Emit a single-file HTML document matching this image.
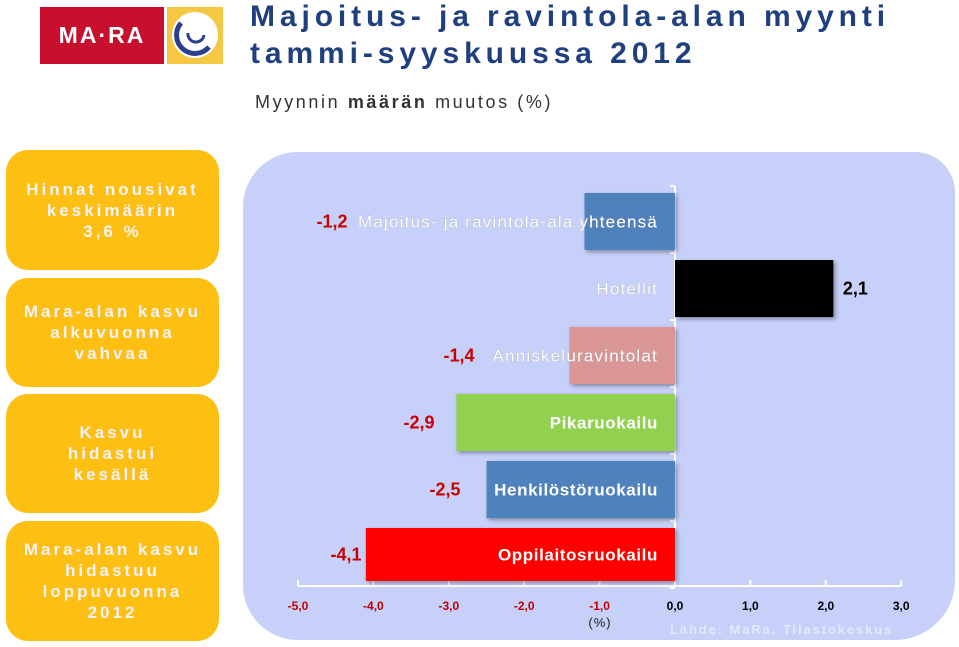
<!DOCTYPE html>
<html><head><meta charset="utf-8"><style>
body{margin:0;width:959px;height:647px;background:#fff;position:relative;overflow:hidden;font-family:"Liberation Sans",sans-serif}
.box{position:absolute;left:6px;width:213px;background:#fdbf12;border-radius:22px;color:#f4f2fb;font-weight:bold;font-size:17px;letter-spacing:3px;text-align:center;display:flex;align-items:center;justify-content:center;line-height:21px}
</style></head><body>
<div style="position:absolute;left:40px;top:7px;width:124px;height:57px;background:#c8102e;color:#fff;font-size:23px;font-weight:bold;letter-spacing:2px;display:flex;align-items:center;justify-content:center">MA·RA</div>
<div style="position:absolute;left:167px;top:7px;width:56px;height:57px;background:#f4c842">
<svg width="56" height="57"><circle cx="28" cy="28" r="23" fill="#fff"/><path d="M14 16 A16 16 0 1 0 42 40" stroke="#2d3e8f" stroke-width="5" fill="none"/><path d="M21 26 A8 8 0 0 0 37 28" stroke="#2d3e8f" stroke-width="3" fill="none"/></svg></div>
<div style="position:absolute;left:250px;top:-2px;color:#1f3f7f;font-size:30px;font-weight:bold;letter-spacing:4.9px;line-height:37px;white-space:nowrap">Majoitus- ja ravintola-alan myynti<br>tammi-syyskuussa 2012</div>
<div style="position:absolute;left:255px;top:92px;color:#333;font-size:18px;letter-spacing:2.6px">Myynnin <b>määrän</b> muutos (%)</div>
<div class="box" style="top:150px;height:120px">Hinnat nousivat<br>keskimäärin<br>3,6 %</div>
<div class="box" style="top:278px;height:109px">Mara-alan kasvu<br>alkuvuonna<br>vahvaa</div>
<div class="box" style="top:394px;height:119px">Kasvu<br>hidastui<br>kesällä</div>
<div class="box" style="top:521px;height:120px">Mara-alan kasvu<br>hidastuu<br>loppuvuonna<br>2012</div>
<div style="position:absolute;left:243px;top:152px;width:712px;height:488px;background:#c6d0f8;border-radius:55px 40px 60px 55px"></div>
<svg id="chart" width="959" height="647" style="position:absolute;left:0;top:0"></svg>
<script>
const categories=["Majoitus- ja ravintola-ala yhteensä","Hotellit","Anniskeluravintolat","Pikaruokailu","Henkilöstöruokailu","Oppilaitosruokailu"];
const values=[-1.2,2.1,-1.4,-2.9,-2.5,-4.1];
const valueLabels=["-1,2","2,1","-1,4","-2,9","-2,5","-4,1"];
const barColors=["#4f81bd","#000000","#d99694","#92d050","#4f81bd","#ff0000"];
const ticks=[-5,-4,-3,-2,-1,0,1,2,3];
const tickLabels=["-5,0","-4,0","-3,0","-2,0","-1,0","0,0","1,0","2,0","3,0"];
const valueLabelX=[332,null,459,419,445,346];
const svg=document.getElementById('chart');const NS='http://www.w3.org/2000/svg';
const x=v=>675+v*75.4;
const yTop=i=>186+i*67;
function mk(t,a){const e=document.createElementNS(NS,t);for(const k in a)e.setAttribute(k,a[k]);svg.appendChild(e);return e;}
const ax=mk('line',{x1:x(-5),x2:x(3),y1:586,y2:586,stroke:'#fff','stroke-width':2});


ticks.forEach((t,i)=>{
 const tk=mk('line',{x1:x(t),x2:x(t),y1:580,y2:586,stroke:'#fff','stroke-width':2});
 
 
 const tl=mk('text',{x:x(t),y:610,'text-anchor':'middle','font-size':12,'font-weight':'bold',fill:t<0?'#c00000':'#000'});
 tl.textContent=tickLabels[i];
 
 
});
const va=mk('line',{x1:x(0),x2:x(0),y1:186,y2:586,stroke:'#fff','stroke-width':2});


for(let i=0;i<=6;i++){const c=mk('line',{x1:x(0)-5,x2:x(0),y1:yTop(i),y2:yTop(i),stroke:'#fff','stroke-width':2});

}
categories.forEach((c,i)=>{
 const v=values[i];const y0=yTop(i)+7;const h=i==5?53:57;
 const r=mk('rect',{x:Math.min(x(0),x(v)),y:y0,width:Math.abs(x(v)-x(0)),height:h,fill:barColors[i],style:'filter:drop-shadow(2px 2px 2px rgba(0,0,0,.35))'});
 
 
 const cy=y0+h/2+6;
 const bold=(i>=3);
 const lab=mk('text',{x:658,y:cy,'text-anchor':'end','font-size':bold?17:17,'font-weight':bold?'bold':'normal','letter-spacing':bold?0.6:1.2,fill:'#fff',stroke:bold?'none':'#999','stroke-width':bold?0:0.4,'paint-order':'stroke'});
 lab.textContent=c;
 
 
 const vl=mk('text',{x:v<0?valueLabelX[i]:x(v)+22,y:cy,'text-anchor':'middle','font-size':18,'font-weight':'bold',fill:v<0?'#cc0000':'#000'});
 vl.textContent=valueLabels[i];
 
 
});
const u=mk('text',{x:600,y:627,'text-anchor':'middle','font-size':13,fill:'#222','letter-spacing':1});u.textContent='(%)';


const s=mk('text',{x:670,y:634,'font-size':13,'font-weight':'bold',fill:'#e4e8fb','letter-spacing':1.9});s.textContent='Lähde: MaRa, Tilastokeskus';


</script>
</body></html>
